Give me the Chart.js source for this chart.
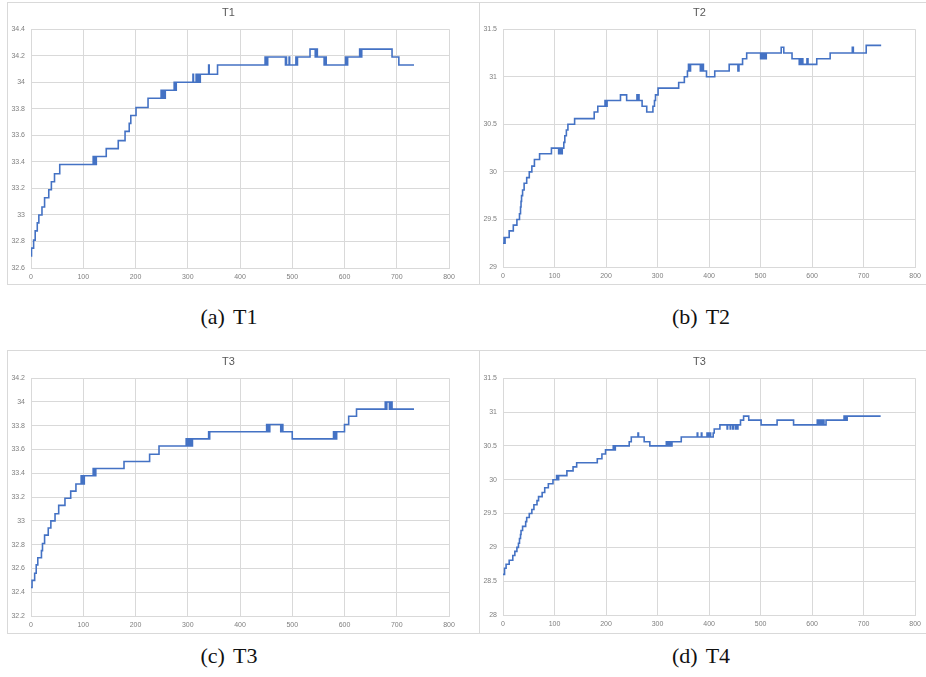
<!DOCTYPE html>
<html>
<head>
<meta charset="utf-8">
<script src="https://cdn.jsdelivr.net/npm/chart.js@4.4.0/dist/chart.umd.min.js"></script>
<style>
  body { margin: 0; background: #fff; width: 926px; height: 677px; position: relative; overflow: hidden; }
  .panel { position: absolute; box-sizing: border-box; border-top: 1px solid #d9d9d9; border-left: 1px solid #d9d9d9; border-bottom: 1px solid #d9d9d9; }
  .panel canvas { display: block; }
  .cap { position: absolute; width: 200px; text-align: center; font-family: "Liberation Serif", serif; font-size: 22px; word-spacing: 3px; color: #111; line-height: 1; }
</style>
</head>
<body>
<div class="panel" style="left:7px;top:2px;width:472px;height:283px"><canvas id="c1" width="471" height="281"></canvas></div>
<div class="panel" style="left:479px;top:2px;width:447px;height:283px"><canvas id="c2" width="446" height="281"></canvas></div>
<div class="panel" style="left:7px;top:350px;width:472px;height:284px"><canvas id="c3" width="471" height="282"></canvas></div>
<div class="panel" style="left:479px;top:350px;width:447px;height:284px"><canvas id="c4" width="446" height="282"></canvas></div>

<div class="cap" style="left:129px;top:306px">(a) T1</div>
<div class="cap" style="left:601px;top:306px">(b) T2</div>
<div class="cap" style="left:129px;top:645px">(c) T3</div>
<div class="cap" style="left:601px;top:645px">(d) T4</div>

<script>
// ======================
// tick labels
// ======================
const xTicks = ["0", "100", "200", "300", "400", "500", "600", "700", "800"];
const t1YTicks = ["32.6", "32.8", "33", "33.2", "33.4", "33.6", "33.8", "34", "34.2", "34.4"];
const t2YTicks = ["29", "29.5", "30", "30.5", "31", "31.5"];
const t3YTicks = ["32.2", "32.4", "32.6", "32.8", "33", "33.2", "33.4", "33.6", "33.8", "34", "34.2"];
const t4YTicks = ["28", "28.5", "29", "29.5", "30", "30.5", "31", "31.5"];

// ======================
// T1 (change points: at x the reading becomes y)
// ======================
const t1X = [0, 1, 5, 8, 12, 15, 21, 26, 34, 39, 45, 55,
  119, 120, 121, 122, 123, 124, 125, 144, 167, 180, 188, 191, 201, 224,
  249, 250, 251, 252, 254, 255, 257, 274, 275, 276, 277, 278,
  310, 311, 316, 317, 319, 320, 322, 323, 324, 340, 341, 357,
  448, 449, 450, 452, 453, 487, 488, 489, 494, 495, 507, 508, 510,
  534, 544, 545, 546, 547, 548, 561, 562, 563, 564, 565,
  602, 603, 604, 605, 606, 629, 630, 631, 632, 633, 691, 704, 733];
const t1Y = [32.69, 32.75, 32.81, 32.88, 32.94, 33.0, 33.06, 33.13, 33.19, 33.25, 33.31, 33.38,
  33.44, 33.38, 33.44, 33.38, 33.44, 33.38, 33.44, 33.5, 33.56, 33.63, 33.69, 33.75, 33.81, 33.88,
  33.94, 33.88, 33.94, 33.88, 33.94, 33.88, 33.94, 34.0, 33.94, 34.0, 33.94, 34.0,
  34.06, 34.0, 34.06, 34.0, 34.06, 34.0, 34.06, 34.0, 34.06, 34.13, 34.06, 34.13,
  34.19, 34.13, 34.19, 34.13, 34.19, 34.13, 34.19, 34.13, 34.19, 34.13, 34.19, 34.13, 34.19,
  34.25, 34.19, 34.25, 34.19, 34.25, 34.19, 34.13, 34.19, 34.13, 34.19, 34.13,
  34.19, 34.13, 34.19, 34.13, 34.19, 34.25, 34.19, 34.25, 34.19, 34.25, 34.19, 34.13, 34.13];

// ======================
// T2
// ======================
const t2X = [0, 2, 3, 4, 12, 20, 27, 32, 34, 35, 36, 38, 41, 46, 51, 56, 61, 71, 94,
  108, 109, 110, 111, 112, 115, 118, 120, 123, 126, 139, 177, 184,
  198, 199, 200, 201, 202, 228, 240, 260, 261, 263, 264, 270, 279, 291, 294, 296, 301,
  341, 352, 358, 360, 361, 362, 363, 364, 383, 384, 386, 387, 389, 395, 411, 439, 456, 458, 465, 473,
  500, 502, 504, 506, 508, 511, 513, 540, 545, 561, 575, 577, 579, 580, 582, 590, 592, 609, 635,
  678, 680, 705, 734];
const t2Y = [29.25, 29.31, 29.25, 29.31, 29.38, 29.44, 29.5, 29.56, 29.63, 29.69, 29.75, 29.81, 29.88, 29.94, 30.0, 30.06, 30.13, 30.19, 30.25,
  30.19, 30.25, 30.19, 30.25, 30.19, 30.25, 30.31, 30.38, 30.44, 30.5, 30.56, 30.63, 30.69,
  30.75, 30.69, 30.75, 30.69, 30.75, 30.81, 30.75, 30.81, 30.75, 30.81, 30.75, 30.69, 30.63, 30.69, 30.75, 30.81, 30.88,
  30.94, 31.0, 31.06, 31.13, 31.06, 31.13, 31.06, 31.13, 31.06, 31.13, 31.06, 31.13, 31.06, 31.0, 31.06, 31.13, 31.06, 31.13, 31.19, 31.25,
  31.19, 31.25, 31.19, 31.25, 31.19, 31.25, 31.25, 31.31, 31.25, 31.19, 31.13, 31.19, 31.13, 31.19, 31.13, 31.19, 31.13, 31.19, 31.25,
  31.31, 31.25, 31.33, 31.33];

// ======================
// T3
// ======================
const t3X = [0, 2, 7, 10, 13, 20, 22, 26, 33, 38, 46, 53, 65, 76, 86,
  96, 97, 98, 99, 100, 101, 102, 119, 120, 121, 122, 124, 178, 227, 245,
  297, 298, 300, 301, 303, 305, 306, 307, 309, 340, 341, 342,
  451, 452, 454, 455, 457, 478, 479, 480, 481, 482, 500,
  579, 580, 582, 583, 585, 600, 608, 623, 678, 680, 681, 686, 687, 689, 690, 691, 733];
const t3Y = [32.44, 32.5, 32.56, 32.63, 32.69, 32.75, 32.81, 32.88, 32.94, 33.0, 33.06, 33.13, 33.19, 33.25, 33.31,
  33.38, 33.31, 33.38, 33.31, 33.38, 33.31, 33.38, 33.44, 33.38, 33.44, 33.38, 33.44, 33.5, 33.56, 33.63,
  33.69, 33.63, 33.69, 33.63, 33.69, 33.63, 33.69, 33.63, 33.69, 33.75, 33.69, 33.75,
  33.81, 33.75, 33.81, 33.75, 33.81, 33.75, 33.81, 33.75, 33.81, 33.75, 33.69,
  33.75, 33.69, 33.75, 33.69, 33.75, 33.81, 33.88, 33.94, 34.0, 33.94, 34.0, 33.94, 34.0, 33.94, 34.0, 33.94, 33.94];

// ======================
// T4
// ======================
const t4X = [0, 3, 6, 12, 19, 23, 27, 30, 32, 34, 35, 38, 44, 46, 51, 56, 60, 66, 69, 76, 81, 88, 97,
  104, 105, 106, 107, 108, 124, 136, 143, 183, 192, 199, 214, 215, 218, 245, 249, 262, 263, 274, 285,
  317, 318, 319, 320, 322, 323, 325, 326, 328, 346,
  377, 378, 385, 386, 396, 397, 399, 400, 402, 403, 408, 410, 421,
  435, 436, 441, 442, 446, 447, 451, 452, 455, 456, 461, 467, 477, 501, 532, 564,
  610, 611, 614, 615, 618, 619, 622, 623, 627, 662, 663, 665, 666, 668, 733];
const t4Y = [28.6, 28.69, 28.75, 28.81, 28.88, 28.94, 29.0, 29.06, 29.13, 29.19, 29.25, 29.31, 29.38, 29.44, 29.5, 29.56, 29.63, 29.69, 29.75, 29.81, 29.88, 29.94, 30.0,
  30.06, 30.0, 30.06, 30.0, 30.06, 30.13, 30.19, 30.25, 30.31, 30.38, 30.44, 30.5, 30.44, 30.5, 30.56, 30.63, 30.69, 30.63, 30.56, 30.5,
  30.56, 30.5, 30.56, 30.5, 30.56, 30.5, 30.56, 30.5, 30.56, 30.63,
  30.69, 30.63, 30.69, 30.63, 30.69, 30.63, 30.69, 30.63, 30.69, 30.63, 30.69, 30.75, 30.81,
  30.75, 30.81, 30.75, 30.81, 30.75, 30.81, 30.75, 30.81, 30.75, 30.81, 30.88, 30.94, 30.88, 30.81, 30.88, 30.81,
  30.88, 30.81, 30.88, 30.81, 30.88, 30.81, 30.88, 30.81, 30.88, 30.94, 30.88, 30.94, 30.88, 30.94, 30.94];

const GRID = "#d9d9d9";
const TEXT = "#7f7f7f";

function montarGrafico(id, titulo, xs, ys, yMin, yMax, yStep, yLabels, pad) {
  const ctx = document.getElementById(id).getContext("2d");
  new Chart(ctx, {
    type: "line",
    data: {
      datasets: [{
        data: xs.map((x, i) => ({ x: x, y: ys[i] })),
        borderColor: "#4472C4",
        borderWidth: 1.6,
        pointRadius: 0,
        stepped: "before",
        fill: false
      }]
    },
    options: {
      responsive: false,
      animation: false,
      layout: { padding: { left: 0, top: 0, right: pad.right, bottom: 0 } },
      plugins: {
        legend: { display: false },
        tooltip: { enabled: false },
        title: {
          display: true,
          text: titulo,
          color: "#595959",
          font: { family: "Liberation Sans", size: 11, weight: "normal" },
          padding: { top: pad.titleTop, bottom: pad.titleBottom }
        }
      },
      scales: {
        x: {
          type: "linear",
          min: 0,
          max: 800,
          ticks: {
            stepSize: 100,
            color: TEXT,
            font: { family: "Liberation Sans", size: 7 },
            padding: 5,
            maxRotation: 0,
            callback: (v, i) => xTicks[i]
          },
          grid: { color: GRID, drawTicks: false },
          border: { color: GRID },
          afterFit: s => { s.height = pad.bottom; }
        },
        y: {
          min: yMin,
          max: yMax,
          ticks: {
            stepSize: yStep,
            color: TEXT,
            font: { family: "Liberation Sans", size: 7 },
            padding: 6,
            callback: (v, i) => yLabels[i]
          },
          grid: { color: GRID, drawTicks: false },
          border: { color: GRID },
          afterFit: s => { s.width = 23; }
        }
      }
    }
  });
}

document.addEventListener("DOMContentLoaded", () => {
  montarGrafico("c1", "T1", t1X, t1Y, 32.6, 34.4, 0.2, t1YTicks, { right: 30, bottom: 16, titleTop: 3, titleBottom: 10 });
  montarGrafico("c2", "T2", t2X, t2Y, 29, 31.5, 0.5, t2YTicks, { right: 7, bottom: 17, titleTop: 3, titleBottom: 10 });
  montarGrafico("c3", "T3", t3X, t3Y, 32.2, 34.2, 0.2, t3YTicks, { right: 30, bottom: 17, titleTop: 4, titleBottom: 10 });
  montarGrafico("c4", "T3", t4X, t4Y, 28, 31.5, 0.5, t4YTicks, { right: 7, bottom: 18, titleTop: 4, titleBottom: 10 });
});
</script>
</body>
</html>
